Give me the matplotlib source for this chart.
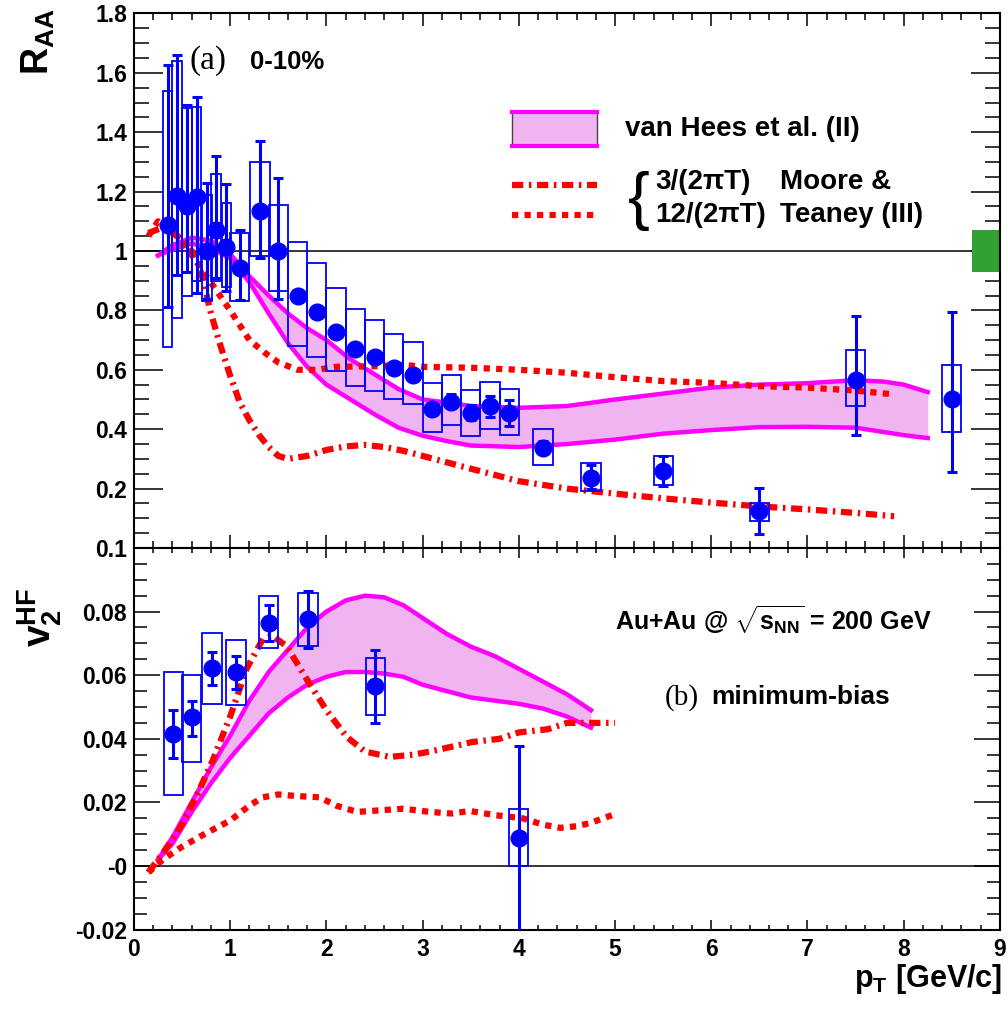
import matplotlib
matplotlib.use('Agg')
import matplotlib.pyplot as plt
from matplotlib.ticker import FixedLocator, FixedFormatter, MultipleLocator

plt.rcParams['font.family'] = ['Liberation Sans', 'DejaVu Sans']
plt.rcParams['font.weight'] = 'bold'
plt.rcParams['mathtext.fontset'] = 'custom'
plt.rcParams['mathtext.rm'] = 'Liberation Sans:bold'
plt.rcParams['mathtext.bf'] = 'Liberation Sans:bold'
plt.rcParams['mathtext.it'] = 'Liberation Sans:bold'

# ---- (a) R_AA, 0-10% ----
raa_pt = [0.35, 0.45, 0.55, 0.65, 0.76, 0.85, 0.96, 1.1, 1.31, 1.5, 1.7, 1.9, 2.1, 2.3,
          2.5, 2.7, 2.9, 3.1, 3.3, 3.5, 3.7, 3.9, 4.25, 4.75, 5.5, 6.5, 7.5, 8.5]
raa = [1.088, 1.186, 1.152, 1.182, 1.0, 1.07, 1.015, 0.943, 1.135, 1.0, 0.848, 0.794, 0.727, 0.67,
       0.642, 0.605, 0.581, 0.467, 0.493, 0.453, 0.477, 0.453, 0.337, 0.237, 0.26, 0.123, 0.567, 0.50]
raa_err_lo = [0.81, 0.92, 0.93, 0.86, 0.84, 0.91, 0.865, 0.834, 0.976, 0.84, 0.835, 0.78, 0.715, 0.66,
              0.63, 0.595, 0.57, 0.455, 0.47, 0.43, 0.44, 0.41, 0.32, 0.20, 0.21, 0.047, 0.38, 0.257]
raa_err_hi = [1.625, 1.66, 1.49, 1.52, 1.23, 1.32, 1.226, 1.07, 1.37, 1.245, 0.86, 0.805, 0.74, 0.68,
              0.655, 0.615, 0.59, 0.48, 0.52, 0.48, 0.513, 0.497, 0.36, 0.28, 0.31, 0.203, 0.78, 0.793]
raa_sys_lo = [0.676, 0.774, 0.848, 0.90, 0.83, 0.90, 0.88, 0.83, 0.983, 0.865, 0.68, 0.642, 0.595, 0.547,
              0.527, 0.503, 0.486, 0.389, 0.413, 0.377, 0.40, 0.38, 0.28, 0.193, 0.213, 0.09, 0.477, 0.39]
raa_sys_hi = [1.54, 1.64, 1.48, 1.486, 1.19, 1.26, 1.16, 1.06, 1.30, 1.155, 1.03, 0.96, 0.875, 0.804,
              0.767, 0.72, 0.692, 0.557, 0.583, 0.533, 0.56, 0.537, 0.40, 0.287, 0.31, 0.153, 0.667, 0.617]
raa_sys_w = [0.1] * 7 + [0.2] * 21
norm_unc = 0.07

vh_raa_pt = [0.25, 0.4, 0.6, 0.8, 1.0, 1.2, 1.4, 1.6, 1.8, 2.0, 2.25, 2.5, 2.75, 3.0, 3.25, 3.5,
             4.0, 4.5, 5.0, 5.5, 6.0, 6.5, 7.0, 7.5, 7.8, 8.0, 8.25]
vh_raa_hi = [0.985, 1.02, 1.045, 1.035, 0.99, 0.915, 0.85, 0.79, 0.74, 0.70, 0.635, 0.585, 0.535, 0.50,
             0.49, 0.478, 0.472, 0.478, 0.50, 0.52, 0.54, 0.55, 0.555, 0.565, 0.56, 0.55, 0.525]
vh_raa_lo = [0.985, 1.005, 1.025, 1.01, 0.975, 0.895, 0.79, 0.69, 0.61, 0.55, 0.50, 0.45, 0.405, 0.378,
             0.36, 0.345, 0.34, 0.35, 0.365, 0.385, 0.397, 0.407, 0.408, 0.405, 0.39, 0.38, 0.37]

mt3_raa_pt = [0.15, 0.3, 0.5, 0.65, 0.72, 0.8, 0.9, 1.0, 1.1, 1.2, 1.3, 1.4, 1.5, 1.6, 1.8, 2.0,
              2.2, 2.4, 2.6, 2.8, 3.0, 3.5, 4.0, 4.5, 5.0, 5.5, 6.0, 6.5, 7.0, 7.5, 7.9]
mt3_raa = [1.06, 1.08, 1.04, 0.98, 0.90, 0.79, 0.68, 0.58, 0.49, 0.43, 0.38, 0.34, 0.31, 0.30, 0.31, 0.33,
           0.342, 0.347, 0.34, 0.327, 0.31, 0.267, 0.225, 0.2, 0.183, 0.167, 0.153, 0.14, 0.13, 0.118, 0.107]

mt12_raa_pt = [0.15, 0.25, 0.4, 0.55, 0.7, 0.85, 1.0, 1.1, 1.2, 1.35, 1.5, 1.7, 1.9, 2.1, 2.5, 2.8,
               3.0, 3.5, 4.0, 4.5, 5.0, 5.5, 6.0, 6.5, 7.0, 7.5, 7.9]
mt12_raa = [1.05, 1.10, 1.07, 1.01, 0.94, 0.87, 0.80, 0.75, 0.70, 0.66, 0.625, 0.60, 0.60, 0.61, 0.612,
            0.617, 0.61, 0.607, 0.60, 0.59, 0.575, 0.562, 0.556, 0.545, 0.54, 0.53, 0.517]

# ---- (b) v2, minimum bias ----
v2_pt = [0.41, 0.60, 0.81, 1.06, 1.40, 1.81, 2.51, 4.0]
v2 = [0.0416, 0.0467, 0.0622, 0.061, 0.0765, 0.0778, 0.0565, 0.0089]
v2_err_lo = [0.034, 0.041, 0.0568, 0.0555, 0.0708, 0.0686, 0.045, -0.03]
v2_err_hi = [0.049, 0.052, 0.0673, 0.066, 0.0822, 0.0864, 0.068, 0.0377]
v2_sys_lo = [0.0222, 0.0327, 0.051, 0.0505, 0.0686, 0.0692, 0.0476, 0.0]
v2_sys_hi = [0.061, 0.060, 0.0733, 0.071, 0.0848, 0.086, 0.0654, 0.0179]

vh_v2_pt = [0.25, 0.4, 0.6, 0.8, 1.0, 1.2, 1.4, 1.6, 1.8, 2.0, 2.2, 2.4, 2.6, 2.8, 3.0, 3.25,
            3.5, 3.75, 4.0, 4.25, 4.5, 4.75]
vh_v2_hi = [0.002, 0.009, 0.02, 0.031, 0.041, 0.052, 0.061, 0.068, 0.075, 0.080, 0.0835, 0.085,
            0.0845, 0.082, 0.078, 0.073, 0.069, 0.066, 0.062, 0.058, 0.054, 0.049]
vh_v2_lo = [0.002, 0.007, 0.017, 0.026, 0.034, 0.041, 0.048, 0.053, 0.057, 0.0595, 0.061, 0.061,
            0.0605, 0.0595, 0.057, 0.055, 0.053, 0.052, 0.051, 0.0495, 0.047, 0.0435]

mt3_v2_pt = [0.15, 0.3, 0.48, 0.65, 0.82, 1.0, 1.17, 1.34, 1.44, 1.59, 1.75, 1.86, 2.0, 2.21, 2.4,
             2.66, 2.9, 3.08, 3.3, 3.52, 3.8, 4.0, 4.3, 4.5, 4.75, 5.0]
mt3_v2 = [-0.002, 0.004, 0.012, 0.022, 0.0333, 0.047, 0.062, 0.0714, 0.0724, 0.069, 0.061, 0.0556,
          0.049, 0.0406, 0.036, 0.0343, 0.035, 0.036, 0.0375, 0.039, 0.040, 0.042, 0.043, 0.045, 0.045, 0.045]

mt12_v2_pt = [0.15, 0.3, 0.48, 0.7, 1.0, 1.2, 1.34, 1.5, 1.69, 1.93, 2.1, 2.32, 2.55, 2.8, 3.08,
              3.3, 3.49, 3.75, 4.04, 4.25, 4.43, 4.6, 4.74, 4.97]
mt12_v2 = [-0.002, 0.002, 0.0057, 0.0095, 0.0143, 0.019, 0.0216, 0.0225, 0.022, 0.0216, 0.019, 0.017,
           0.0175, 0.018, 0.017, 0.0165, 0.0173, 0.016, 0.015, 0.013, 0.012, 0.0125, 0.0135, 0.016]

# ticks
x_ticks = [0, 1, 2, 3, 4, 5, 6, 7, 8, 9]
x_labels = ['0', '1', '2', '3', '4', '5', '6', '7', '8', '9']
raa_ticks = [0.2, 0.4, 0.6, 0.8, 1.0, 1.2, 1.4, 1.6, 1.8]
raa_labels = ['0.2', '0.4', '0.6', '0.8', '1', '1.2', '1.4', '1.6', '1.8']
v2_ticks = [-0.02, 0.0, 0.02, 0.04, 0.06, 0.08, 0.1]
v2_labels = ['-0.02', '-0', '0.02', '0.04', '0.06', '0.08', '0.1']

BLUE = '#0000ff'
RED = '#ff0000'
MAG = '#ff00ff'
FILL = '#f0b4f0'
DOT = (0, (1.0, 1.0))
DASHDOT = (0, (1.8, 0.9, 0.4, 0.9))

fig = plt.figure(figsize=(10.08, 10.09), dpi=100)
ax1 = fig.add_axes([0.1329, 0.4569, 0.8591, 0.5298])
ax2 = fig.add_axes([0.1329, 0.0787, 0.8591, 0.3782])


def style(ax, ymin, xlen, ylen):
    ax.set_xlim(0, 9)
    ax.xaxis.set_major_locator(FixedLocator(x_ticks))
    ax.xaxis.set_minor_locator(MultipleLocator(0.2))
    ax.yaxis.set_minor_locator(MultipleLocator(ymin))
    ax.tick_params(which='both', direction='in', top=True, right=True, width=1.1,
                   labelsize=16.5)
    ax.tick_params(axis='x', which='major', length=xlen, pad=6)
    ax.tick_params(axis='x', which='minor', length=xlen / 2)
    ax.tick_params(axis='y', which='major', length=ylen, pad=5)
    ax.tick_params(axis='y', which='minor', length=ylen / 2)
    for s in ax.spines.values():
        s.set_linewidth(1.5)


# ---- top panel ----
ax1.fill_between(vh_raa_pt, vh_raa_lo, vh_raa_hi, color=FILL, lw=0, zorder=1)
ax1.plot(vh_raa_pt, vh_raa_hi, color=MAG, lw=3.2, zorder=2)
ax1.plot(vh_raa_pt, vh_raa_lo, color=MAG, lw=3.2, zorder=2)
ax1.plot(mt3_raa_pt, mt3_raa, color=RED, lw=4.5, ls=DASHDOT, zorder=3)
ax1.plot(mt12_raa_pt, mt12_raa, color=RED, lw=4.5, ls=DOT, zorder=3)
ax1.axhline(1, color='black', lw=1.1, zorder=0)
ax1.bar(raa_pt, [h - l for h, l in zip(raa_sys_hi, raa_sys_lo)], bottom=raa_sys_lo,
        width=raa_sys_w, fill=False, edgecolor=BLUE, lw=1.3, zorder=4)
ax1.errorbar(raa_pt, raa, yerr=[[v - l for v, l in zip(raa, raa_err_lo)],
                                [h - v for v, h in zip(raa, raa_err_hi)]],
             fmt='o', color=BLUE, ms=12, elinewidth=2.2, capsize=3.5, capthick=2.2, zorder=5)
ax1.bar(8.855, 2 * norm_unc, bottom=1 - norm_unc, width=0.29, color='#33a033', lw=0, zorder=2)

style(ax1, 0.05, 9.4, 21)
ax1.set_ylim(0, 1.8)
ax1.yaxis.set_major_locator(FixedLocator(raa_ticks))
ax1.yaxis.set_major_formatter(FixedFormatter(raa_labels))
ax1.tick_params(axis='x', labelbottom=False)

# legend (drawn by hand, ROOT style)
tr = ax1.transAxes
ax1.fill_between([0.4365, 0.5346], [0.752, 0.752], [0.8156, 0.8156], color=FILL, lw=0, transform=tr)
ax1.plot([0.4365, 0.4365], [0.752, 0.8156], color='#444444', lw=1, transform=tr)
ax1.plot([0.5346, 0.5346], [0.752, 0.8156], color='#444444', lw=1, transform=tr)
ax1.plot([0.4365, 0.5346], [0.8156, 0.8156], color=MAG, lw=3, transform=tr)
ax1.plot([0.4365, 0.5346], [0.752, 0.752], color=MAG, lw=3, transform=tr)
ax1.plot([0.4365, 0.5346], [0.679, 0.679], color=RED, lw=4.5, ls=DASHDOT, transform=tr)
ax1.plot([0.4365, 0.5346], [0.623, 0.623], color=RED, lw=4.5, ls=DOT, transform=tr)
ax1.text(0.567, 0.784, 'van Hees et al. (II)', transform=tr, fontsize=20, va='center')
ax1.text(0.583, 0.650, '{', transform=tr, fontsize=47, fontweight='normal', va='center', ha='center')
ax1.text(0.6016, 0.6846, '3/(2πT)', transform=tr, fontsize=20, va='center')
ax1.text(0.6016, 0.623, '12/(2πT)', transform=tr, fontsize=20, va='center')
ax1.text(0.746, 0.6846, 'Moore &', transform=tr, fontsize=20, va='center')
ax1.text(0.746, 0.623, 'Teaney (III)', transform=tr, fontsize=20, va='center')
ax1.text(0.0647, 0.912, '(a)', transform=tr, fontsize=24, va='center',
         family=['Liberation Serif'], fontweight='normal')
ax1.text(0.134, 0.91, '0-10%', transform=tr, fontsize=18.5, va='center')

# ---- bottom panel ----
ax2.fill_between(vh_v2_pt, vh_v2_lo, vh_v2_hi, color=FILL, lw=0, zorder=1)
ax2.plot(vh_v2_pt, vh_v2_hi, color=MAG, lw=3.2, zorder=2)
ax2.plot(vh_v2_pt, vh_v2_lo, color=MAG, lw=3.2, zorder=2)
ax2.plot(mt3_v2_pt, mt3_v2, color=RED, lw=4.5, ls=DASHDOT, zorder=3)
ax2.plot(mt12_v2_pt, mt12_v2, color=RED, lw=4.5, ls=DOT, zorder=3)
ax2.axhline(0, color='black', lw=1.1, zorder=0)
ax2.bar(v2_pt, [h - l for h, l in zip(v2_sys_hi, v2_sys_lo)], bottom=v2_sys_lo,
        width=0.2, fill=False, edgecolor=BLUE, lw=1.3, zorder=4)
ax2.errorbar(v2_pt, v2, yerr=[[v - l for v, l in zip(v2, v2_err_lo)],
                              [h - v for v, h in zip(v2, v2_err_hi)]],
             fmt='o', color=BLUE, ms=12, elinewidth=2.2, capsize=3.5, capthick=2.2, zorder=5)

style(ax2, 0.005, 7.2, 18.7)
ax2.set_ylim(-0.02, 0.1)
ax2.yaxis.set_major_locator(FixedLocator(v2_ticks))
ax2.yaxis.set_major_formatter(FixedFormatter(v2_labels))
ax2.xaxis.set_major_formatter(FixedFormatter(x_labels))

tr2 = ax2.transAxes
ax2.text(0.555, 0.811, r'Au+Au @ $\mathbf{\sqrt{s_{NN}}}$ = 200 GeV', transform=tr2,
         fontsize=18, va='center')
ax2.text(0.613, 0.609, '(b)', transform=tr2, fontsize=21, va='center',
         family=['Liberation Serif'], fontweight='normal')
ax2.text(0.667, 0.609, 'minimum-bias', transform=tr2, fontsize=19, va='center')

# axis titles
fig.text(0.038, 0.992, r'$\mathbf{R_{AA}}$', rotation=90, fontsize=27, ha='center', va='top')
fig.text(0.040, 0.388, r'$\mathbf{v_2^{HF}}$', rotation=90, fontsize=28, ha='center', va='center')
fig.text(0.994, 0.022, r'$\mathbf{p_T}$ [GeV/c]', fontsize=22, ha='right', va='baseline')

fig.savefig('out.png', dpi=100)
